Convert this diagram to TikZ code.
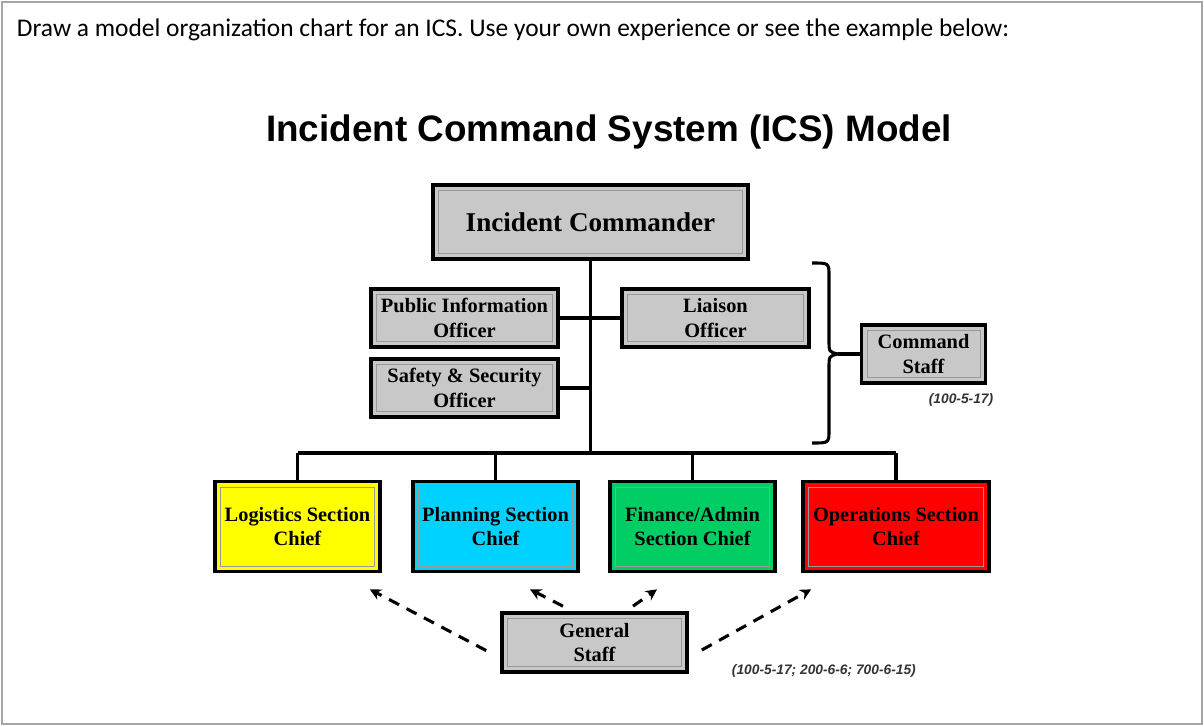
\documentclass[tikz,border=0pt]{standalone}
\usepackage{fontspec}
\setmainfont{Liberation Serif}
\newfontfamily\headfont{Carlito}
\newfontfamily\titlefont{Liberation Sans}
\usetikzlibrary{arrows.meta}

\definecolor{boxgray}{RGB}{200,200,200}
\definecolor{logyellow}{RGB}{255,255,0}
\definecolor{planblue}{RGB}{0,210,255}
\definecolor{fingreen}{RGB}{0,205,100}
\definecolor{opsred}{RGB}{255,0,0}

\tikzset{
	bevel/.style={path picture={
		\draw[black!40, line width=0.5pt] ([xshift=4pt,yshift=-4pt]path picture bounding box.north west) rectangle ([xshift=-4pt,yshift=4pt]path picture bounding box.south east);
	}},
	staffbox/.style={draw, line width=2.6pt, fill=boxgray, bevel, inner sep=0pt, align=center,
		minimum width=4.675cm, minimum height=1.45cm, font=\fontsize{14.5}{17.5}\selectfont\bfseries},
	chiefbox/.style={staffbox, minimum width=4.125cm, minimum height=2.25cm, fill=#1},
	link/.style={line width=2.6pt},
	gsarrow/.style={line width=2.2pt, dash pattern=on 8pt off 6pt, -{Stealth[length=8pt,width=8pt]}},
	refnote/.style={text=black!80, font=\fontsize{9.8}{12}\titlefont\bfseries\itshape}
}

\begin{document}
\begin{tikzpicture}[x=0.025cm, y=-0.025cm]
	\useasboundingbox (0,0) rectangle (1204,726);
	\draw[gray!70, line width=0.8pt] (2,2) rectangle (1202,724);

	\node[anchor=base west, font=\fontsize{18.1}{21}\headfont] (task) at (12,36)
		{Draw a model organization chart for an ICS. Use your own experience or see the example below:};
	\node[font=\fontsize{26.2}{31}\titlefont\bfseries] (title) at (609,132) {Incident Command System (ICS) Model};

	% command
	\node[staffbox, line width=3pt, minimum width=7.875cm, minimum height=1.85cm,
		font=\fontsize{19.3}{23}\selectfont\bfseries] (ic) at (590.5,222) {Incident Commander};
	\node[staffbox] (pio) at (464.5,318) {Public Information\\Officer};
	\node[staffbox] (liaison) at (715.5,318) {Liaison\\Officer};
	\node[staffbox] (safety) at (464.5,388) {Safety \& Security\\Officer};
	\node[staffbox, minimum width=3.1cm] (cmd) at (923.5,354) {Command\\Staff};
	\node[refnote] (cmdref) at (961,400) {(100-5-17)};

	% sections
	\node[chiefbox=logyellow] (log) at (297.5,526.5) {Logistics Section\\Chief};
	\node[chiefbox=planblue] (plan) at (495.5,526.5) {Planning Section\\Chief};
	\node[chiefbox=fingreen] (fin) at (692.5,526.5) {Finance/Admin\\Section Chief};
	\node[chiefbox=opsred, minimum width=4.65cm] (ops) at (896,526.5) {Operations Section\\Chief};

	\node[staffbox, minimum width=4.625cm, minimum height=1.475cm] (gs) at (594.5,642.5) {General\\Staff};
	\node[refnote, anchor=west] (gsref) at (727,671) {(100-5-17; 200-6-6; 700-6-15)};

	% tree lines
	\coordinate (bar) at (590.5,453);
	\draw[link] (ic.south) -- (bar);
	\draw[link] (pio.east) -- (pio.east -| bar);
	\draw[link] (liaison.west) -- (liaison.west -| bar);
	\draw[link] (safety.east) -- (safety.east -| bar);
	\draw[link] (log.north |- bar) -- (ops.north |- bar);
	\foreach \s in {log, plan, fin, ops}{
		\draw[link] (\s.north) -- (\s.north |- bar);
	}

	% brace round the command staff
	\coordinate (bracetop) at (812,263);
	\coordinate (brbottom) at (812,443);
	\coordinate (bracetip) at (838,354);
	\draw[line width=2.2pt, line join=round] (bracetop) .. controls (829,263) .. (829,276) -- (829,340)
		.. controls (829,352) .. (bracetip) .. controls (829,356) .. (829,368) -- (829,430)
		.. controls (829,443) .. (brbottom);
	\draw[line width=2.2pt] (bracetip) -- (cmd.west);

	% general staff arrows
	\draw[gsarrow] ([shift={(-14,8)}]gs.west) -- ([shift={(-12,16)}]log.south east);
	\draw[gsarrow] ([shift={(-31.5,-5)}]gs.north) -- ([shift={(34.5,16)}]plan.south);
	\draw[gsarrow] ([shift={(38.5,-5)}]gs.north) -- ([shift={(-35.5,16)}]fin.south);
	\draw[gsarrow] ([shift={(13,7.5)}]gs.east) -- ([shift={(10,16)}]ops.south west);

\end{tikzpicture}
\end{document}
